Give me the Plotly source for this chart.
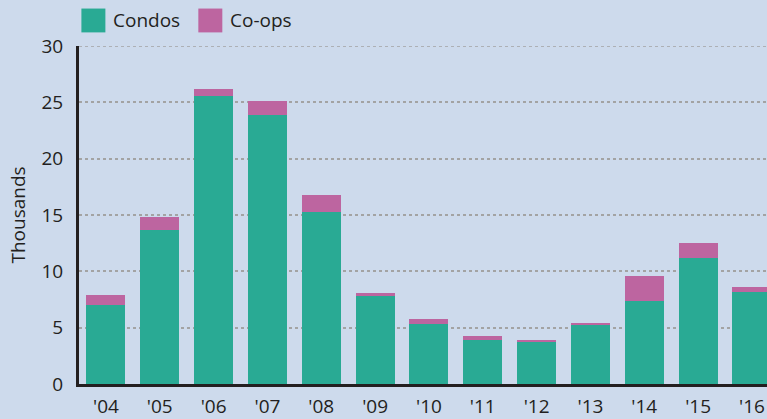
import plotly.graph_objects as go

years = ["'04", "'05", "'06", "'07", "'08", "'09", "'10", "'11", "'12", "'13", "'14", "'15", "'16"]
condos = [7.0, 13.7, 25.6, 23.9, 15.3, 7.85, 5.3, 3.95, 3.8, 5.2, 7.35, 11.2, 8.2]
coops = [0.9, 1.1, 0.6, 1.2, 1.5, 0.25, 0.5, 0.35, 0.15, 0.2, 2.2, 1.35, 0.45]
y_ticks = [0, 5, 10, 15, 20, 25, 30]

TEAL = "#29aa94"
PINK = "#bd65a0"
BG = "#cddaec"
INK = "#231f20"
GRID = "#a3a3a3"
FONT = "Open Sans"
FS = 19

fig = go.Figure()
fig.add_trace(go.Bar(x=years, y=condos, name="Condos", marker=dict(color=TEAL, line=dict(width=0))))
fig.add_trace(go.Bar(x=years, y=coops, name="Co-ops", marker=dict(color=PINK, line=dict(width=0))))

W, H = 767, 419
ml, mt, mb = 78.6, 45.7, 33
pw = W - ml
ph = H - mt - mb

def px(x):
    return (x - ml) / pw

def py(y):
    return 1 - (y - mt) / ph

# custom legend
legend_items = [("Condos", TEAL, 81, 111), ("Co-ops", PINK, 198, 228)]
shapes = []
annotations = []
for name, col, x0, tx in legend_items:
    shapes.append(dict(type="rect", xref="paper", yref="paper",
                       x0=px(x0), x1=px(x0 + 24), y0=py(32), y1=py(8),
                       fillcolor=col, line=dict(width=0)))
    annotations.append(dict(text=name, xref="paper", yref="paper",
                            x=px(tx), y=py(20), xanchor="left", yanchor="middle",
                            showarrow=False, font=dict(family=FONT, size=FS, color=INK)))

# top gridline at the axis maximum (plotly omits grid at the range edge)
shapes.append(dict(type="line", xref="paper", yref="y", x0=0, x1=1,
                   y0=y_ticks[-1], y1=y_ticks[-1], layer="below",
                   line=dict(color=GRID, width=1.5, dash="3px,3px")))

fig.update_layout(
    barmode="stack",
    bargap=0.276,
    width=W, height=H,
    margin=dict(l=ml, r=0, t=mt, b=mb, pad=0),
    paper_bgcolor=BG, plot_bgcolor=BG,
    showlegend=False,
    shapes=shapes,
    annotations=annotations,
    font=dict(family=FONT, size=FS, color=INK),
    xaxis=dict(range=[-0.5, 12.28], showgrid=False, showline=True, linecolor=INK,
               linewidth=3, ticks="", tickfont=dict(size=FS, color=INK), ticklabelstandoff=3,
               fixedrange=True),
    yaxis=dict(range=[0, 30], tickvals=y_ticks, showgrid=True, gridcolor=GRID,
               griddash="3px,3px", gridwidth=1.5, showline=True, linecolor=INK, linewidth=3,
               ticks="", tickfont=dict(size=FS, color=INK), ticklabelstandoff=9,
               zeroline=False,
               title=dict(text="Thousands", font=dict(size=FS, color=INK), standoff=11)),
)

fig.write_html("out.html", config={"displayModeBar": False})
with open("out.html", "r", encoding="utf-8") as f:
    html = f.read()
html = html.replace("<head>", "<head><style>html,body{margin:0;padding:0;overflow:hidden;}</style>", 1)
with open("out.html", "w", encoding="utf-8") as f:
    f.write(html)
